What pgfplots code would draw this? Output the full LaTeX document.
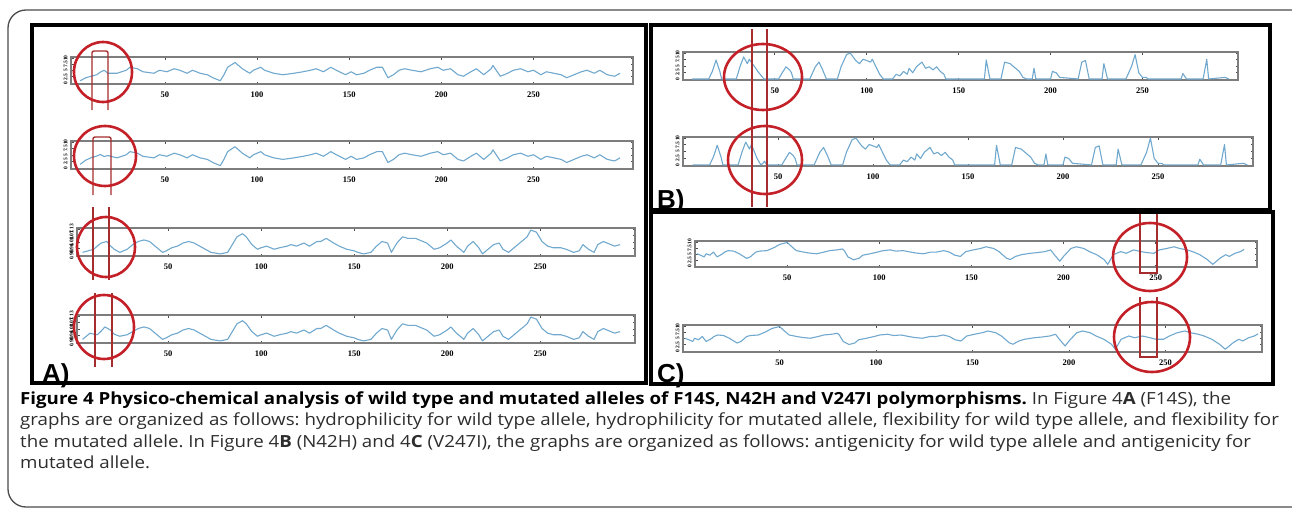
\documentclass[border=0pt]{standalone}
\usepackage{pgfplots}
\pgfplotsset{compat=1.18}
\usepackage{pgfplotstable}
\usepackage{fontspec}
\setmainfont{Open Sans}[FakeStretch=1.12]
\newfontfamily\labfont{Liberation Sans}
\newfontfamily\tickfont{Liberation Serif}
\frenchspacing

\definecolor{plotblue}{RGB}{112,168,206}
\definecolor{framegray}{RGB}{125,125,125}
\definecolor{ringred}{RGB}{196,32,40}
\definecolor{markred}{RGB}{165,45,45}
\definecolor{captext}{RGB}{45,45,45}

% hydrophilicity (A1 wild type, A2 mutated), 0-10 = bottom-top of the strip
\pgfplotstableread{
res wt mut
4 0.9 1.4
7 2.1 3.0
10 2.7 4.0
13 3.3 4.6
15 4.4 5.2
17 5.1 4.4
19 3.9 4.8
24 3.9 3.9
29 5.1 5.1
31 6.3 6.3
35 5.7 5.7
38 4.5 4.5
44 3.9 3.9
47 5.1 5.1
51 4.5 4.5
55 5.7 5.7
58 5.1 5.1
62 3.9 3.9
65 5.1 5.1
69 3.9 3.9
73 3.3 3.3
76 2.1 2.1
80 0.9 0.9
82 3.3 3.3
84 6.3 6.3
88 8.2 8.2
92 5.7 5.7
96 3.9 3.9
98 5.1 5.1
100 5.7 5.7
102 6.3 6.3
104 5.1 5.1
109 3.9 3.9
114 3.3 3.3
120 3.9 3.9
125 4.5 4.5
129 5.1 5.1
132 5.7 5.7
136 4.5 4.5
140 6.3 6.3
143 5.1 5.1
148 3.3 3.3
151 4.5 4.5
154 3.3 3.3
158 3.9 3.9
161 5.1 5.1
165 6.3 6.3
168 6.3 6.3
171 2.1 2.1
174 3.3 3.3
177 5.1 5.1
180 5.7 5.7
184 5.1 5.1
189 4.5 4.5
194 5.7 5.7
198 6.3 6.3
201 5.1 5.1
205 5.7 5.7
209 3.3 3.3
212 2.7 2.7
216 4.5 4.5
219 5.7 5.7
223 3.3 3.3
227 5.7 5.7
228 7.0 7.0
232 2.7 2.7
236 3.9 3.9
239 5.1 5.1
243 5.7 5.7
247 4.5 4.5
250 5.1 5.1
254 3.3 3.3
257 4.5 4.5
261 3.9 3.9
265 3.3 3.3
268 2.1 2.1
272 3.3 3.3
276 4.5 4.5
279 5.1 5.1
283 3.9 3.9
286 5.1 5.1
290 3.3 3.3
294 2.7 2.7
297 3.9 3.9
}\hydro

% flexibility (A3 wild type, A4 mutated)
\pgfplotstableread{
res wt mut
4 1.0 1.0
8 1.8 3.4
10 2.2 3.0
12 3.5 2.8
14 4.6 4.2
16 5.0 5.8
17 5.2 5.4
19 3.5 4.6
21 2.2 3.0
24 1.0 2.2
28 2.2 2.8
31 4.0 4.0
34 5.2 5.2
37 5.8 5.8
40 5.2 5.2
44 2.8 2.8
47 1.0 1.0
49 1.6 1.6
52 2.8 2.8
55 3.4 3.4
58 4.6 4.6
61 5.2 5.2
64 4.6 4.6
67 3.4 3.4
70 2.2 2.2
73 1.0 1.0
78 0.4 0.4
82 1.0 1.0
84 3.4 3.4
87 7.0 7.0
90 8.2 8.2
92 7.0 7.0
95 4.0 4.0
98 2.2 2.2
100 2.8 2.8
103 3.4 3.4
107 2.2 2.2
110 2.8 2.8
114 3.4 3.4
116 4.0 4.0
119 3.4 3.4
123 4.6 4.6
126 3.4 3.4
130 5.2 5.2
132 5.2 5.2
135 6.4 6.4
139 4.6 4.6
142 3.4 3.4
146 2.2 2.2
150 1.6 1.6
152 1.0 1.0
155 0.4 0.4
159 1.0 1.0
162 3.4 3.4
165 5.2 5.2
168 4.6 4.6
170 1.0 1.0
173 4.6 4.6
176 7.0 7.0
179 6.4 6.4
183 6.4 6.4
185 5.8 5.8
189 4.6 4.6
193 2.2 2.2
196 2.8 2.8
200 4.6 4.6
202 5.8 5.8
205 3.4 3.4
209 1.0 1.0
211 3.4 3.4
214 5.2 5.2
217 2.8 2.8
219 0.4 0.4
222 2.2 2.2
225 4.0 4.0
228 4.6 4.6
230 2.2 2.2
233 1.0 1.0
236 2.8 2.8
239 4.6 4.6
243 7.0 7.0
245 9.6 9.6
248 8.8 8.8
251 5.2 5.2
254 3.4 3.4
257 2.8 2.8
261 2.8 2.8
264 2.2 2.2
268 1.0 1.0
271 1.6 1.6
273 4.0 4.0
276 2.2 2.2
279 1.0 1.0
281 4.0 4.0
284 5.2 5.2
288 4.0 4.0
290 3.4 3.4
293 4.0 4.0
}\flex

% antigenicity N42H (B1 wild type, B2 mutated)
\pgfplotstableread{
res wt mut
5 0 0
14 0 0
16 3.0 3.0
18 7.3 7.3
20 3.0 3.0
21 0 0
29 0 0
31 4.7 4.7
33 8.5 8.5
35 5.9 5.9
36 7.6 7.6
39 4.7 2.4
41 2.6 0
42 1.8 0.6
43 0.9 1.4
44 0 0
52 0 0
54 2.4 2.4
55 3.5 3.5
56 4.7 4.7
58 3.5 3.5
59 2.4 2.4
60 0 0
69 0 0
72 4.7 4.7
74 6.5 6.5
76 3.5 3.5
78 0 0
84 0 0
86 4.7 4.7
89 9.4 9.4
91 10 10
94 7.1 7.1
96 5.9 5.9
98 7.6 7.6
100 7.1 7.1
102 6.5 6.5
103 7.6 7.6
105 4.7 4.7
107 1.8 1.8
109 0 0
114 0 0
116 1.8 1.8
118 1.2 1.2
120 2.9 2.9
122 1.8 1.8
123 4.1 4.1
125 2.4 2.4
127 4.7 4.7
130 6.5 6.5
132 4.1 4.1
134 4.7 4.7
136 3.5 3.5
138 4.7 4.7
140 2.9 2.9
142 1.8 1.8
143 0 0
164 0 0
165 7.3 7.3
167 0 0
173 0 0
175 6.5 6.5
178 5.9 5.9
180 4.7 4.7
183 2.9 2.9
185 0.6 0.6
187 0 0
190 0 0
191 4.1 4.1
192 0 0
200 0 0
201 2.9 2.9
203 2.4 2.4
205 0.6 0.6
215 0 0
217 6.5 6.5
219 7.1 7.1
221 0 0
228 0 0
229 5.9 5.9
231 0 0
241 0 0
244 4.7 4.7
246 9.4 10
248 2.4 2.4
250 0.6 0.6
252 0.6 0.6
253 0 0
271 0 0
272 2.1 2.1
274 0 0
283 0 0
285 7.6 7.6
286 0 0
295 0.6 0.6
297 0 0
}\antB

% antigenicity V247I (C1 wild type, C2 mutated)
\pgfplotstableread{
res wt mut
1 5.1 5.1
3 4.5 4.5
5 3.8 3.8
6 5.1 5.1
8 4.5 4.5
10 5.8 5.8
12 3.8 3.8
15 5.1 5.1
16 5.8 5.8
18 6.4 6.4
21 6.2 6.2
24 5.1 5.1
28 3.2 3.2
30 3.8 3.8
33 5.8 5.8
35 6.2 6.2
39 6.4 6.4
43 7.7 7.7
46 9.0 9.0
50 9.8 9.8
53 7.7 7.7
55 6.4 6.4
59 5.8 5.8
62 5.4 5.4
66 5.1 5.1
70 5.8 5.8
73 6.4 6.4
77 6.7 6.7
80 7.1 7.1
81 6.4 6.4
83 3.8 3.8
86 2.6 2.6
89 3.2 3.2
91 4.5 4.5
95 5.1 5.1
99 5.8 5.8
102 6.4 6.4
106 6.7 6.7
109 6.2 6.2
113 6.4 6.4
117 5.8 5.8
120 5.4 5.4
124 5.1 5.1
128 5.8 5.8
131 5.8 5.8
135 6.4 6.4
138 5.8 5.8
141 4.5 4.5
144 4.0 4.0
147 6.0 6.0
151 6.7 6.7
155 7.3 7.3
158 8.0 8.0
162 7.3 7.3
165 6.0 6.0
166 5.3 5.3
169 3.3 3.3
171 2.7 2.7
174 4.0 4.0
177 4.7 4.7
182 5.3 5.3
186 5.6 5.6
190 6.0 6.0
193 6.7 6.7
195 4.7 4.7
198 2.0 2.0
200 4.0 4.0
204 7.3 7.3
207 8.0 8.0
211 7.3 7.3
214 6.0 6.0
218 4.7 4.7
222 2.7 2.7
224 0.7 0.7
227 4.7 4.7
231 6.0 6.0
234 5.3 5.3
238 6.7 6.0
242 6.0 5.3
245 5.6 4.7
249 5.3 4.7
252 6.7 6.0
256 7.3 7.3
260 8.0 8.0
263 7.3 7.3
267 6.7 6.7
270 6.0 6.0
274 4.7 4.7
278 2.7 2.7
281 0.7 0.7
285 3.3 3.3
288 4.7 4.7
290 4.0 4.0
293 5.3 5.3
296 6.0 6.0
298 6.9 6.9
}\antC

\pgfplotsset{
  strip/.style={
    scale only axis, anchor=north west,
    ymin=-0.4, ymax=10.4,
    axis line style={draw=framegray, line width=1.6pt},
    xtick={50,100,150,200,250},
    ytick={0,2.5,5,7.5,10},
    tick align=inside,
    major tick length=2.5pt,
    tick style={draw=black!70, line width=0.8pt},
    /pgf/number format/assume math mode=true,
    xticklabel style={font=\tickfont\bfseries\fontsize{8.5}{8.5}\selectfont, yshift=-4pt},
    yticklabel style={font=\tickfont\bfseries\fontsize{5.5}{5.5}\selectfont, rotate=90, anchor=south},
    every axis plot post/.append style={draw=plotblue, line width=1.1pt, mark=none, line join=round},
  },
}

\begin{document}
\begin{tikzpicture}
\useasboundingbox (0,0) rectangle (1292pt,-514pt);

% panel A
\begin{axis}[strip, at={(71pt,-57pt)}, width=562pt, height=27pt, xmin=-1, xmax=304]
  \addplot table[x=res, y=wt] {\hydro};
\end{axis}
\begin{axis}[strip, at={(71pt,-141pt)}, width=562pt, height=28pt, xmin=-1, xmax=304]
  \addplot table[x=res, y=mut] {\hydro};
\end{axis}
\begin{axis}[strip, at={(77pt,-228pt)}, width=558pt, height=28pt, xmin=1, xmax=301,
  yticklabels={0.90,0.96,1.01,1.07,1.13}]
  \addplot table[x=res, y=wt] {\flex};
\end{axis}
\begin{axis}[strip, at={(77pt,-315pt)}, width=558pt, height=28pt, xmin=1, xmax=301,
  yticklabels={0.90,0.96,1.01,1.07,1.13}]
  \addplot table[x=res, y=mut] {\flex};
\end{axis}

% panel B
\begin{axis}[strip, at={(683pt,-52pt)}, width=555pt, height=28pt, xmin=0, xmax=302]
  \addplot table[x=res, y=wt] {\antB};
\end{axis}
\begin{axis}[strip, at={(683pt,-137pt)}, width=570pt, height=29pt, xmin=0, xmax=300]
  \addplot table[x=res, y=mut] {\antB};
\end{axis}

% panel C
\begin{axis}[strip, at={(695pt,-241pt)}, width=562pt, height=26pt, xmin=0, xmax=305]
  \addplot table[x=res, y=wt] {\antC};
\end{axis}
\begin{axis}[strip, at={(683pt,-325pt)}, width=579pt, height=27pt, xmin=0, xmax=300]
  \addplot table[x=res, y=mut] {\antC};
\end{axis}

\begin{scope}[x=1pt, y=-1pt]
  % outer frame and panel frames
  \draw[black!70, line width=1.3pt, rounded corners=18pt] (8,10) rectangle (1320,507);
  \draw[black, line width=4pt] (32,25) rectangle (646,383);
  \draw[black, line width=4pt] (651,25) rectangle (1270,210);
  \draw[black, line width=4pt] (651,212) rectangle (1273,384);

  % red marks, panel A
  \draw[markred, line width=1.4pt, rounded corners=2pt] (92,110) -- (92,51) -- (108,51) -- (108,110);
  \draw[markred, line width=1.4pt, rounded corners=2pt] (93,195) -- (93,137) -- (111,137) -- (111,195);
  \draw[markred, line width=1.4pt] (93,207) -- (93,280) (109,207) -- (109,280);
  \draw[markred, line width=1.4pt] (95,293) -- (95,367) (112,293) -- (112,367);
  \draw[ringred, line width=2.6pt] (103,72) ellipse [x radius=29, y radius=30];
  \draw[ringred, line width=2.6pt] (105,156) ellipse [x radius=31, y radius=30];
  \draw[ringred, line width=2.6pt] (106,247) ellipse [x radius=29, y radius=30];
  \draw[ringred, line width=2.6pt] (104,327) ellipse [x radius=30, y radius=32];

  % red marks, panel B
  \draw[markred, line width=1.4pt] (752,29) -- (752,207) (767,29) -- (767,207);
  \draw[ringred, line width=2.6pt] (763,77) ellipse [x radius=39, y radius=33];
  \draw[ringred, line width=2.6pt] (765,160) ellipse [x radius=37, y radius=34];

  % red marks, panel C
  \draw[markred, line width=1.4pt] (1140,214) -- (1140,273) -- (1157,273) -- (1157,214);
  \draw[markred, line width=1.4pt] (1140,297) -- (1140,357) -- (1157,357) -- (1157,297);
  \draw[ringred, line width=2.6pt] (1150,257) ellipse [x radius=37, y radius=34];
  \draw[ringred, line width=2.6pt] (1152,337) ellipse [x radius=38, y radius=35];

  % panel letters
  \node[anchor=base west, inner sep=0, font=\labfont\bfseries\fontsize{26}{26}\selectfont] at (42,382) {A)};
  \node[anchor=base west, inner sep=0, font=\labfont\bfseries\fontsize{26}{26}\selectfont] at (657,208) {B)};
  \node[anchor=base west, inner sep=0, font=\labfont\bfseries\fontsize{26}{26}\selectfont] at (657,382) {C)};

  % caption
  \begin{scope}[every node/.style={anchor=base west, inner sep=0, text=captext, font=\fontsize{16.7}{21}\selectfont}]
    \node at (20,404) {\textbf{\color{black}Figure 4 Physico-chemical analysis of wild type and mutated alleles of F14S, N42H and V247I polymorphisms.} In Figure 4\textbf{A} (F14S), the};
    \node at (20,425) {graphs are organized as follows: hydrophilicity for wild type allele, hydrophilicity for mutated allele, flexibility for wild type allele, and flexibility for};
    \node at (20,447) {the mutated allele. In Figure 4\textbf{B} (N42H) and 4\textbf{C} (V247I), the graphs are organized as follows: antigenicity for wild type allele and antigenicity for};
    \node at (20,468) {mutated allele.};
  \end{scope}
\end{scope}
\end{tikzpicture}
\end{document}
